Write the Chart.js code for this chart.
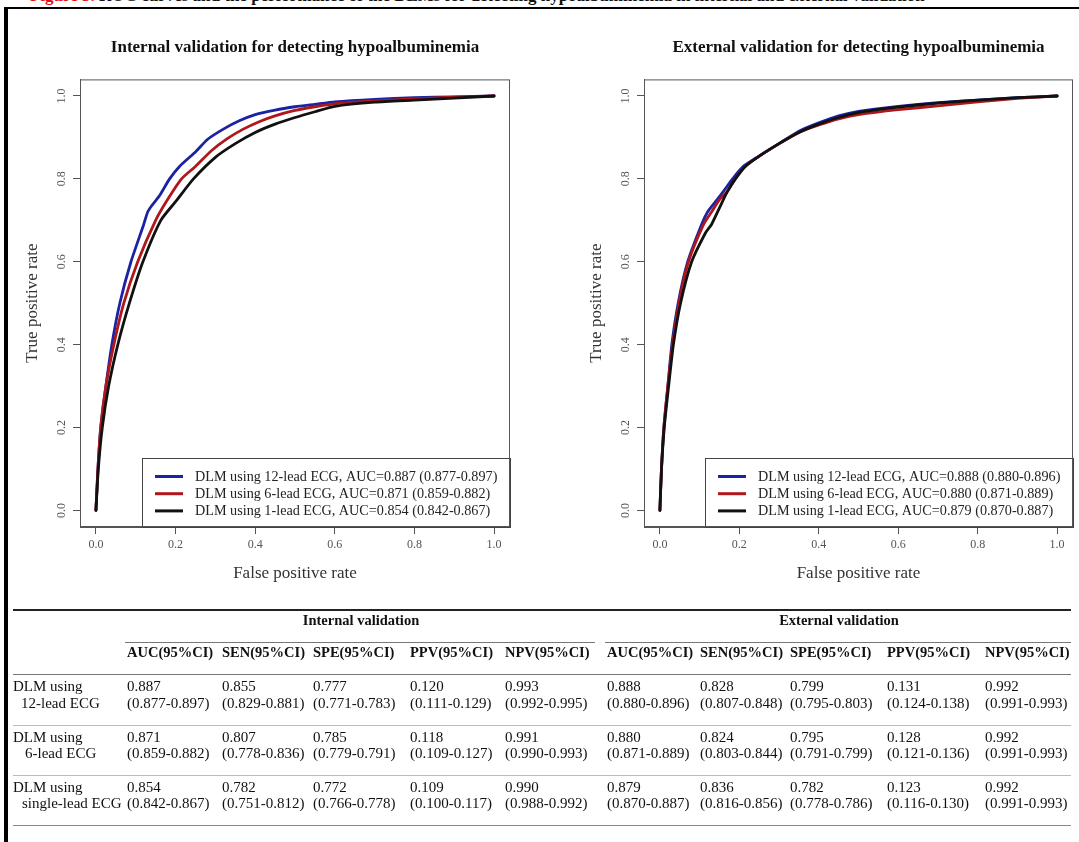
<!DOCTYPE html>
<html>
<head>
<meta charset="utf-8">
<title>ROC curves - hypoalbuminemia</title>
<script src="https://cdn.jsdelivr.net/npm/chart.js@4.4.1/dist/chart.umd.min.js"></script>
<style>
  html, body { margin: 0; padding: 0; background: #fff; }
  body {
    width: 1079px; height: 842px; position: relative; overflow: hidden;
    font-family: "Liberation Serif", "Times New Roman", serif; color: #111;
  }
  .frame-top { position: absolute; left: 4px; top: 7px; width: 1075px; height: 2px; background: #000; z-index: 5; }
  .frame-left { position: absolute; left: 4px; top: 7px; width: 4px; height: 835px; background: #000; z-index: 5; }
  .fig-title {
    position: absolute; left: 30px; top: -13px; font-size: 17px; line-height: 17px;
    font-weight: bold; white-space: nowrap;
  }
  .fig-title span { color: #e01010; }
  .plot { position: absolute; top: 0; height: 590px; }
  #left { left: 0; width: 540px; }
  #right { left: 540px; width: 539px; }
  #tbl { position: absolute; left: 0; top: 0; width: 1079px; height: 842px; pointer-events: none; }
  .hl { position: absolute; }
  .cell { position: absolute; font-size: 15px; line-height: 17px; white-space: nowrap; }
  .cell.b { font-weight: bold; font-size: 14.5px; }
</style>
</head>
<body>
<div class="fig-title"><span>Figure 3.</span> ROC curves and the performance of the DLMs for detecting hypoalbuminemia in internal and external validation</div>
<div class="frame-top"></div>
<div class="frame-left"></div>

<div class="plot" id="left"><canvas id="rocInternal"></canvas></div>
<div class="plot" id="right"><canvas id="rocExternal"></canvas></div>
<div id="tbl"></div>

<script>
// ROC curves (false positive rate / true positive rate)
const int12Fpr = [0, 0.005, 0.012, 0.025, 0.04, 0.06, 0.088, 0.12, 0.13, 0.14, 0.16, 0.185, 0.21, 0.25, 0.28, 0.32, 0.36, 0.4, 0.45, 0.5, 0.55, 0.6, 0.7, 0.8, 0.9, 1];
const int12Tpr = [0, 0.1, 0.2, 0.3, 0.4, 0.5, 0.6, 0.69, 0.72, 0.735, 0.76, 0.8, 0.83, 0.865, 0.895, 0.92, 0.94, 0.955, 0.966, 0.974, 0.98, 0.986, 0.992, 0.996, 0.998, 1];
const int6Fpr = [0, 0.005, 0.012, 0.025, 0.045, 0.07, 0.105, 0.15, 0.18, 0.215, 0.25, 0.29, 0.33, 0.37, 0.41, 0.45, 0.5, 0.55, 0.6, 0.7, 0.8, 0.9, 1];
const int6Tpr = [0, 0.1, 0.2, 0.3, 0.4, 0.5, 0.6, 0.7, 0.75, 0.8, 0.83, 0.868, 0.897, 0.92, 0.938, 0.952, 0.965, 0.974, 0.981, 0.988, 0.993, 0.997, 1];
const int1Fpr = [0, 0.006, 0.016, 0.032, 0.055, 0.084, 0.118, 0.163, 0.2, 0.245, 0.3, 0.35, 0.4, 0.45, 0.5, 0.55, 0.6, 0.7, 0.8, 0.9, 1];
const int1Tpr = [0, 0.1, 0.2, 0.3, 0.4, 0.5, 0.6, 0.7, 0.745, 0.8, 0.852, 0.885, 0.912, 0.932, 0.948, 0.962, 0.975, 0.985, 0.99, 0.995, 1];

const ext12Fpr = [0, 0.004, 0.01, 0.02, 0.03, 0.046, 0.07, 0.105, 0.12, 0.14, 0.16, 0.183, 0.21, 0.25, 0.3, 0.35, 0.4, 0.45, 0.5, 0.6, 0.7, 0.8, 0.9, 1];
const ext12Tpr = [0, 0.1, 0.2, 0.3, 0.4, 0.5, 0.6, 0.69, 0.72, 0.745, 0.77, 0.8, 0.83, 0.855, 0.885, 0.915, 0.935, 0.952, 0.963, 0.975, 0.984, 0.99, 0.996, 1];
const ext6Fpr = [0, 0.004, 0.01, 0.02, 0.032, 0.048, 0.072, 0.11, 0.13, 0.15, 0.17, 0.19, 0.215, 0.25, 0.3, 0.35, 0.4, 0.45, 0.5, 0.6, 0.7, 0.8, 0.9, 1];
const ext6Tpr = [0, 0.1, 0.2, 0.3, 0.4, 0.5, 0.6, 0.69, 0.72, 0.75, 0.77, 0.8, 0.83, 0.855, 0.885, 0.912, 0.93, 0.945, 0.955, 0.967, 0.976, 0.986, 0.994, 1];
const ext1Fpr = [0, 0.004, 0.011, 0.022, 0.034, 0.052, 0.08, 0.115, 0.13, 0.15, 0.17, 0.19, 0.215, 0.25, 0.3, 0.35, 0.4, 0.45, 0.5, 0.6, 0.7, 0.8, 0.9, 1];
const ext1Tpr = [0, 0.1, 0.2, 0.3, 0.4, 0.5, 0.6, 0.67, 0.69, 0.73, 0.77, 0.8, 0.83, 0.855, 0.885, 0.912, 0.932, 0.948, 0.96, 0.973, 0.983, 0.99, 0.996, 1];

const axisTicks = [0, 0.2, 0.4, 0.6, 0.8, 1.0];
const legendLeads = ["12-lead", "6-lead", "1-lead"];

// table values
const modelNames = ["12-lead ECG", "6-lead ECG", "single-lead ECG"];
const metricNames = ["AUC(95%CI)", "SEN(95%CI)", "SPE(95%CI)", "PPV(95%CI)", "NPV(95%CI)"];
const internalEst = [
  [0.887, 0.855, 0.777, 0.120, 0.993],
  [0.871, 0.807, 0.785, 0.118, 0.991],
  [0.854, 0.782, 0.772, 0.109, 0.990],
];
const internalCI = [
  [[0.877, 0.897], [0.829, 0.881], [0.771, 0.783], [0.111, 0.129], [0.992, 0.995]],
  [[0.859, 0.882], [0.778, 0.836], [0.779, 0.791], [0.109, 0.127], [0.990, 0.993]],
  [[0.842, 0.867], [0.751, 0.812], [0.766, 0.778], [0.100, 0.117], [0.988, 0.992]],
];
const externalEst = [
  [0.888, 0.828, 0.799, 0.131, 0.992],
  [0.880, 0.824, 0.795, 0.128, 0.992],
  [0.879, 0.836, 0.782, 0.123, 0.992],
];
const externalCI = [
  [[0.880, 0.896], [0.807, 0.848], [0.795, 0.803], [0.124, 0.138], [0.991, 0.993]],
  [[0.871, 0.889], [0.803, 0.844], [0.791, 0.799], [0.121, 0.136], [0.991, 0.993]],
  [[0.870, 0.887], [0.816, 0.856], [0.778, 0.786], [0.116, 0.130], [0.991, 0.993]],
];

const SERIF = "'Liberation Serif', 'Times New Roman', serif";
const lineColors = ["#1b22a3", "#b0171b", "#111111"];

const f3 = (v) => v.toFixed(3);
const ciText = (ci) => "(" + f3(ci[0]) + "-" + f3(ci[1]) + ")";

// R-style box around the plot region + legend in the bottom right corner
const rFrame = {
  id: "rFrame",
  afterDatasetsDraw(chart) {
    const { ctx, chartArea: a } = chart;
    ctx.save();

    const w = 368, h = 69;
    const lx = a.right - w, ly = a.bottom - h;
    ctx.fillStyle = "#fff";
    ctx.fillRect(lx, ly, w, h);
    ctx.strokeStyle = "#444";
    ctx.lineWidth = 1;
    ctx.strokeRect(lx + 0.5, ly + 0.5, w, h);

    ctx.font = "14.2px " + SERIF;
    ctx.textBaseline = "middle";
    chart.data.datasets.forEach((ds, i) => {
      const y = ly + 18.5 + i * 17.2;
      ctx.strokeStyle = ds.borderColor;
      ctx.lineWidth = 3;
      ctx.beginPath();
      ctx.moveTo(lx + 13, y);
      ctx.lineTo(lx + 41, y);
      ctx.stroke();
      ctx.fillStyle = "#222";
      ctx.fillText(ds.label, lx + 53, y + 0.5);
    });

    ctx.strokeStyle = "#555";
    ctx.lineWidth = 1;
    ctx.strokeRect(a.left + 0.5, a.top + 0.5, a.width - 1, a.height - 1);
    ctx.restore();
  },
};

function setTicks(scale) {
  scale.ticks = axisTicks.map((v) => ({ value: v }));
}

function rocChart(canvasId, title, fprs, tprs, est, ci, padLeft, padRight) {
  const datasets = fprs.map((fpr, i) => ({
    label: "DLM using " + legendLeads[i] + " ECG, AUC=" + f3(est[i][0]) + " " + ciText(ci[i][0]),
    data: fpr.map((x, j) => ({ x: x, y: tprs[i][j] })),
    borderColor: lineColors[i],
    borderWidth: 2.8,
    borderJoinStyle: "round",
    borderCapStyle: "round",
    showLine: true,
    pointRadius: 0,
    tension: 0.2,
    order: 3 - i,
  }));

  return new Chart(document.getElementById(canvasId), {
    type: "scatter",
    data: { datasets: datasets },
    options: {
      responsive: true,
      maintainAspectRatio: false,
      animation: false,
      layout: { padding: { left: padLeft, right: padRight, top: 0, bottom: 0 } },
      plugins: {
        legend: { display: false },
        tooltip: { enabled: false },
        title: {
          display: true,
          text: title,
          fullSize: false,
          color: "#111",
          font: { family: SERIF, size: 17, weight: "bold" },
          padding: { top: 37, bottom: 22 },
        },
      },
      scales: {
        x: {
          type: "linear",
          min: -0.04,
          max: 1.04,
          afterBuildTicks: setTicks,
          afterFit: (s) => { s.height = 63; },
          ticks: {
            callback: (v) => v.toFixed(1),
            font: { family: SERIF, size: 12 },
            color: "#555",
            padding: 4,
            maxRotation: 0,
          },
          grid: { drawOnChartArea: false, drawTicks: true, tickLength: 7, color: "#555" },
          border: { display: true, color: "#555" },
          title: {
            display: true,
            text: "False positive rate",
            color: "#333",
            font: { family: SERIF, size: 17 },
            padding: { top: 0, bottom: 6 },
          },
        },
        y: {
          type: "linear",
          min: -0.04,
          max: 1.04,
          afterBuildTicks: setTicks,
          afterFit: (s) => { s.width = 70; },
          ticks: {
            callback: (v) => v.toFixed(1),
            font: { family: SERIF, size: 12 },
            color: "#555",
            padding: 4,
            minRotation: 90,
            maxRotation: 90,
            crossAlign: "center",
          },
          grid: { drawOnChartArea: false, drawTicks: true, tickLength: 7, color: "#555" },
          border: { display: true, color: "#555" },
          title: {
            display: true,
            text: "True positive rate",
            color: "#333",
            font: { family: SERIF, size: 17 },
            padding: { top: 12.5, bottom: 0 },
          },
        },
      },
    },
    plugins: [rFrame],
  });
}

rocChart("rocInternal", "Internal validation for detecting hypoalbuminemia",
  [int12Fpr, int6Fpr, int1Fpr], [int12Tpr, int6Tpr, int1Tpr], internalEst, internalCI, 10, 30);
rocChart("rocExternal", "External validation for detecting hypoalbuminemia",
  [ext12Fpr, ext6Fpr, ext1Fpr], [ext12Tpr, ext6Tpr, ext1Tpr], externalEst, externalCI, 34, 6);

// performance table
const tbl = document.getElementById("tbl");
const colX = [127, 222, 313, 410, 505, 607, 700, 790, 887, 985];
const rowMid = [[686, 703], [737, 753], [787, 803]];
const labelIndent = [8, 12, 9];

function hline(y, x1, x2, h, color) {
  const d = document.createElement("div");
  d.className = "hl";
  d.style.cssText = "left:" + x1 + "px;top:" + y + "px;width:" + (x2 - x1) + "px;height:" + h + "px;background:" + color;
  tbl.appendChild(d);
}
function cell(x, yMid, text, bold, center) {
  const d = document.createElement("div");
  d.className = "cell" + (bold ? " b" : "");
  d.textContent = text;
  d.style.top = (yMid - 8.5) + "px";
  if (center) {
    d.style.left = (x - 150) + "px";
    d.style.width = "300px";
    d.style.textAlign = "center";
  } else {
    d.style.left = x + "px";
  }
  tbl.appendChild(d);
}

hline(609, 13, 1071, 2, "#222");
cell(361, 620.5, "Internal validation", true, true);
cell(839, 620.5, "External validation", true, true);
hline(642, 125, 595, 1, "#777");
hline(642, 605, 1071, 1, "#777");
metricNames.concat(metricNames).forEach((m, i) => cell(colX[i], 652.5, m, true));
hline(674, 13, 1071, 1, "#777");

modelNames.forEach((name, r) => {
  cell(13, rowMid[r][0], "DLM using", false);
  cell(13 + labelIndent[r], rowMid[r][1], name, false);
  for (let c = 0; c < 5; c++) {
    cell(colX[c], rowMid[r][0], f3(internalEst[r][c]), false);
    cell(colX[c], rowMid[r][1], ciText(internalCI[r][c]), false);
    cell(colX[c + 5], rowMid[r][0], f3(externalEst[r][c]), false);
    cell(colX[c + 5], rowMid[r][1], ciText(externalCI[r][c]), false);
  }
});
hline(725, 13, 1071, 1, "#bbb");
hline(775, 13, 1071, 1, "#bbb");
hline(825, 13, 1071, 1, "#888");
</script>
</body>
</html>
